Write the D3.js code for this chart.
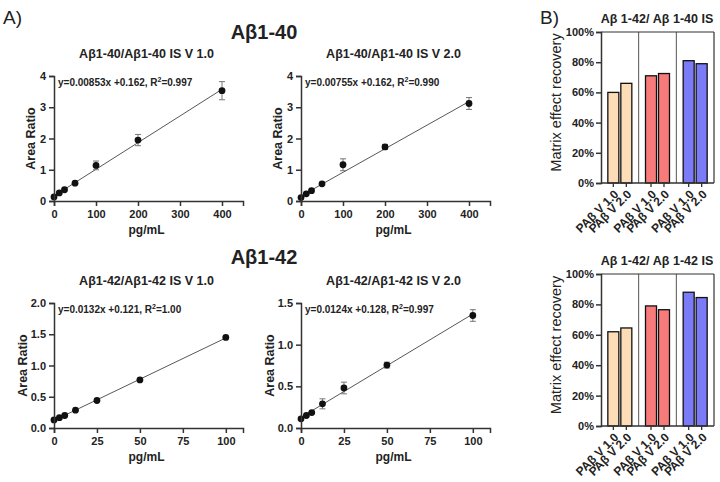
<!DOCTYPE html>
<html>
<head>
<meta charset="utf-8">
<script src="https://cdn.jsdelivr.net/npm/d3@7"></script>
<style>
  body { margin: 0; background: white; }
  svg { display: block; font-family: "Liberation Sans", Arial, sans-serif; }
</style>
</head>
<body>
<script>
// calibration data (pg/mL vs area ratio)
const conc40 = [0, 12.5, 25, 50, 100, 200, 400];
const conc42 = [0, 3.125, 6.25, 12.5, 25, 50, 100];

const ratio40v1 = [0.13, 0.26, 0.36, 0.57, 1.14, 1.95, 3.53];
const sd40v1 = [0.02, 0.02, 0.03, 0.03, 0.14, 0.18, 0.29];
const ratio40v2 = [0.11, 0.23, 0.33, 0.55, 1.16, 1.73, 3.12];
const sd40v2 = [0.02, 0.02, 0.03, 0.03, 0.19, 0.08, 0.19];
const ratio42v1 = [0.13, 0.165, 0.2, 0.285, 0.44, 0.77, 1.45];
const sd42v1 = [0.01, 0.01, 0.01, 0.01, 0.01, 0.01, 0.01];
const ratio42v2 = [0.11, 0.15, 0.185, 0.29, 0.48, 0.755, 1.35];
const sd42v2 = [0.01, 0.01, 0.01, 0.06, 0.07, 0.035, 0.07];

// linear fits: slope, intercept, R2 label
const slopes = [0.00853, 0.00755, 0.0132, 0.0124];
const intercepts = [0.162, 0.162, 0.121, 0.128];
const r2Labels = ["0.997", "0.990", "1.00", "0.997"];

const panelTitles = ["Aβ1-40/Aβ1-40 IS V 1.0", "Aβ1-40/Aβ1-40 IS V 2.0",
                     "Aβ1-42/Aβ1-42 IS V 1.0", "Aβ1-42/Aβ1-42 IS V 2.0"];
const groupTitles = ["Aβ1-40", "Aβ1-42"];

const xTicks40 = [0, 100, 200, 300, 400];
const xTicks42 = [0, 25, 50, 75, 100];
const yTicks40 = [0, 1, 2, 3, 4];
const yTicks42v1 = [0, 0.5, 1.0, 1.5, 2.0];
const yTicks42v2 = [0, 0.5, 1.0, 1.5];

// matrix effect recovery bars
const versions = ["PAβ V 1.0", "PAβ V 2.0"];
const groups = ["g1", "g2", "g3"];
const groupColors = ["#fddcb8", "#f87b7b", "#7b7bf8"];
const recovery40IS = [[0.60, 0.66], [0.71, 0.725], [0.81, 0.79]];
const recovery42IS = [[0.62, 0.645], [0.79, 0.765], [0.88, 0.845]];
const barTitles = ["Aβ 1-42/ Aβ 1-40 IS", "Aβ 1-42/ Aβ 1-42 IS"];
const yTicksBar = [0, 0.2, 0.4, 0.6, 0.8, 1.0];

const width = 720, height = 482;
const svg = d3.select("body").append("svg")
    .attr("width", width)
    .attr("height", height);

const ink = "#222";

svg.append("text").attr("x", 3).attr("y", 24).attr("font-size", 19).attr("fill", ink).text("A)");
svg.append("text").attr("x", 540).attr("y", 24).attr("font-size", 19).attr("fill", ink).text("B)");

svg.append("text").attr("x", 264).attr("y", 39).attr("text-anchor", "middle")
    .attr("font-size", 20).attr("font-weight", "bold").attr("fill", ink).text(groupTitles[0]);
svg.append("text").attr("x", 264).attr("y", 264).attr("text-anchor", "middle")
    .attr("font-size", 20).attr("font-weight", "bold").attr("fill", ink).text(groupTitles[1]);

const panels = [
    {x: conc40, y: ratio40v1, sd: sd40v1, left: 54, top: 76, right: 243, bottom: 201,
     xMax: 450, yMax: 4, xTicks: xTicks40, yTicks: yTicks40, yFmt: d3.format("d"), labelGap: 19},
    {x: conc40, y: ratio40v2, sd: sd40v2, left: 301, top: 76, right: 490, bottom: 201,
     xMax: 450, yMax: 4, xTicks: xTicks40, yTicks: yTicks40, yFmt: d3.format("d"), labelGap: 19},
    {x: conc42, y: ratio42v1, sd: sd42v1, left: 54, top: 303, right: 243, bottom: 428,
     xMax: 110, yMax: 2, xTicks: xTicks42, yTicks: yTicks42v1, yFmt: d3.format(".1f"), labelGap: 27},
    {x: conc42, y: ratio42v2, sd: sd42v2, left: 301, top: 303, right: 490, bottom: 428,
     xMax: 110, yMax: 1.5, xTicks: xTicks42, yTicks: yTicks42v2, yFmt: d3.format(".1f"), labelGap: 27}
];

function styleAxis(g) {
    g.select(".domain").attr("stroke", "#333").attr("stroke-width", 1.5);
    g.selectAll(".tick line").attr("stroke", "#333").attr("stroke-width", 1.5);
    g.selectAll(".tick text").attr("fill", ink).attr("font-weight", "bold")
        .attr("font-size", 11).attr("font-family", "Liberation Sans, Arial, sans-serif");
}

panels.forEach(function (p, i) {
    const xScale = d3.scaleLinear().domain([0, p.xMax]).range([p.left, p.right]);
    const yScale = d3.scaleLinear().domain([0, p.yMax]).range([p.bottom, p.top]);
    const g = svg.append("g");

    // regression line
    const xLast = d3.max(p.x);
    g.append("line")
        .attr("x1", xScale(0)).attr("y1", yScale(intercepts[i]))
        .attr("x2", xScale(xLast)).attr("y2", yScale(slopes[i] * xLast + intercepts[i]))
        .attr("stroke", "#444").attr("stroke-width", 0.9);

    // error bars
    const pts = p.x.map((d, k) => ({x: d, y: p.y[k], sd: p.sd[k]}));
    const eb = g.selectAll(".eb").data(pts).enter().append("g").attr("stroke", "#777").attr("stroke-width", 1);
    eb.append("line")
        .attr("x1", d => xScale(d.x)).attr("x2", d => xScale(d.x))
        .attr("y1", d => yScale(d.y - d.sd)).attr("y2", d => yScale(d.y + d.sd));
    eb.append("line")
        .attr("x1", d => xScale(d.x) - 3).attr("x2", d => xScale(d.x) + 3)
        .attr("y1", d => yScale(d.y + d.sd)).attr("y2", d => yScale(d.y + d.sd));
    eb.append("line")
        .attr("x1", d => xScale(d.x) - 3).attr("x2", d => xScale(d.x) + 3)
        .attr("y1", d => yScale(d.y - d.sd)).attr("y2", d => yScale(d.y - d.sd));

    g.selectAll("circle").data(pts).enter().append("circle")
        .attr("cx", d => xScale(d.x)).attr("cy", d => yScale(d.y))
        .attr("r", 3.4).attr("fill", "#111");

    const xAxis = svg.append("g")
        .attr("transform", `translate(0,${p.bottom})`)
        .call(d3.axisBottom(xScale).tickValues(p.xTicks).tickSizeOuter(0).tickSize(5).tickPadding(4));
    styleAxis(xAxis);
    const yAxis = svg.append("g")
        .attr("transform", `translate(${p.left},0)`)
        .call(d3.axisLeft(yScale).tickValues(p.yTicks).tickFormat(p.yFmt).tickSizeOuter(0).tickSize(5).tickPadding(3));
    styleAxis(yAxis);

    const cx = (p.left + p.right) / 2 - 2;
    svg.append("text").attr("x", cx).attr("y", p.top - 18).attr("text-anchor", "middle")
        .attr("font-size", 12.5).attr("font-weight", "bold").attr("fill", ink).text(panelTitles[i]);
    svg.append("text").attr("x", cx).attr("y", p.bottom + 33).attr("text-anchor", "middle")
        .attr("font-size", 12).attr("font-weight", "bold").attr("fill", ink).text("pg/mL");
    svg.append("text")
        .attr("transform", `translate(${p.left - p.labelGap},${(p.top + p.bottom) / 2}) rotate(-90)`)
        .attr("text-anchor", "middle")
        .attr("font-size", 12.5).attr("font-weight", "bold").attr("fill", ink).text("Area Ratio");

    const eq = svg.append("text").attr("x", p.left + 4).attr("y", p.top + 10)
        .attr("font-size", 10).attr("font-weight", "bold").attr("fill", ink);
    eq.append("tspan").text(`y=${slopes[i]}x +${intercepts[i].toFixed(3)}, R`);
    eq.append("tspan").attr("dy", -4).attr("font-size", 7).text("2");
    eq.append("tspan").attr("dy", 4).text(`=${r2Labels[i]}`);
});

// bar charts
const barPanels = [
    {data: recovery40IS, top: 32, bottom: 183},
    {data: recovery42IS, top: 274, bottom: 426}
];
const barLeft = 601, barRight = 714;

barPanels.forEach(function (bp, i) {
    const yScale = d3.scaleLinear().domain([0, 1]).range([bp.bottom, bp.top]);
    const groupScale = d3.scaleBand().domain(groups).range([barLeft, barRight]);
    const verScale = d3.scalePoint().domain(versions).range([0, groupScale.bandwidth()]).padding(0.95);
    const bw = 11;
    const g = svg.append("g");

    // separators and frame
    groups.slice(1).forEach(function (gr) {
        g.append("line").attr("x1", groupScale(gr)).attr("x2", groupScale(gr))
            .attr("y1", bp.top).attr("y2", bp.bottom).attr("stroke", "#555").attr("stroke-width", 1);
    });
    g.append("line").attr("x1", barLeft).attr("x2", barRight).attr("y1", bp.top).attr("y2", bp.top)
        .attr("stroke", "#333").attr("stroke-width", 1.2);
    g.append("line").attr("x1", barRight).attr("x2", barRight).attr("y1", bp.top).attr("y2", bp.bottom)
        .attr("stroke", "#333").attr("stroke-width", 1.2);

    const bars = [];
    groups.forEach(function (gr, gi) {
        versions.forEach(function (v, vi) {
            bars.push({group: gr, gi: gi, version: v, value: bp.data[gi][vi]});
        });
    });

    g.selectAll("rect").data(bars).enter().append("rect")
        .attr("x", d => groupScale(d.group) + verScale(d.version) - bw / 2)
        .attr("y", d => yScale(d.value))
        .attr("width", bw)
        .attr("height", d => yScale(0) - yScale(d.value))
        .attr("fill", d => groupColors[d.gi])
        .attr("stroke", "#111").attr("stroke-width", 1.3);

    const yAxis = svg.append("g")
        .attr("transform", `translate(${barLeft},0)`)
        .call(d3.axisLeft(yScale).tickValues(yTicksBar).tickFormat(d3.format(".0%")).tickSizeOuter(0).tickSize(5).tickPadding(2));
    styleAxis(yAxis);

    // x axis with ticks under bars
    svg.append("line").attr("x1", barLeft).attr("x2", barRight).attr("y1", bp.bottom).attr("y2", bp.bottom)
        .attr("stroke", "#333").attr("stroke-width", 1.5);
    const xt = svg.append("g");
    xt.selectAll("line").data(bars).enter().append("line")
        .attr("x1", d => groupScale(d.group) + verScale(d.version))
        .attr("x2", d => groupScale(d.group) + verScale(d.version))
        .attr("y1", bp.bottom).attr("y2", bp.bottom + 4)
        .attr("stroke", "#333").attr("stroke-width", 1.3);
    xt.selectAll("text").data(bars).enter().append("text")
        .attr("transform", d => `translate(${groupScale(d.group) + verScale(d.version) + 6},${bp.bottom + 12}) rotate(-45)`)
        .attr("text-anchor", "end")
        .attr("font-size", 12).attr("font-weight", "bold").attr("fill", ink)
        .text(d => d.version);

    svg.append("text").attr("x", 657).attr("y", bp.top - 9).attr("text-anchor", "middle")
        .attr("font-size", 12.5).attr("font-weight", "bold").attr("fill", ink).text(barTitles[i]);
    svg.append("text")
        .attr("transform", `translate(561,${(bp.top + bp.bottom) / 2 - 5}) rotate(-90)`)
        .attr("text-anchor", "middle")
        .attr("font-size", 14.5).attr("fill", ink).text("Matrix effect recovery");
});
</script>
</body>
</html>
